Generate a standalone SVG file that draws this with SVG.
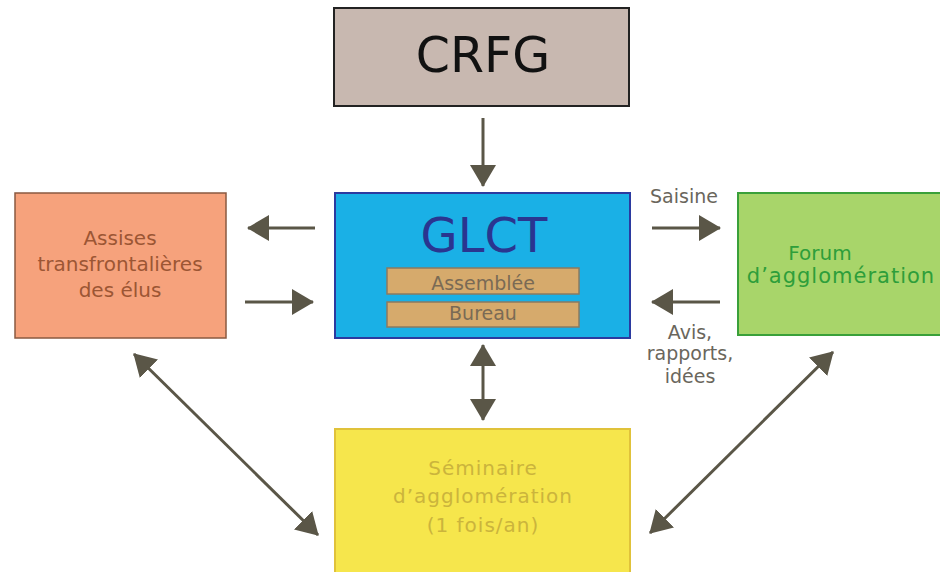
<svg xmlns="http://www.w3.org/2000/svg" width="940" height="572" viewBox="0 0 940 572">
<style>
.t{font-family:"DejaVu Sans","Liberation Sans",sans-serif;text-anchor:middle}
.c{stroke:#5a5647;stroke-width:3;fill:none}
</style>
<defs>
<marker id="ah" viewBox="0 0 22 26" refX="21" refY="13" markerWidth="22" markerHeight="26" markerUnits="userSpaceOnUse" orient="auto-start-reverse">
<path d="M0,0 L22,13 L0,26 z" fill="#5a5647"/>
</marker>
</defs>
<rect width="940" height="572" fill="#ffffff"/>
<g id="crfg">
<rect x="334" y="8" width="295" height="98" fill="#c8b8b0" stroke="#222" stroke-width="2"/>
<text class="t" x="483" y="72" font-size="49" fill="#111">CRFG</text>
</g>
<g id="glct">
<rect x="335" y="193" width="295" height="145" fill="#1ab0e6" stroke="#2b3aa0" stroke-width="2"/>
<text class="t" x="484" y="252" font-size="48" fill="#2a3590">GLCT</text>
<rect x="387" y="268" width="192" height="26" fill="#d6aa6c" stroke="#8a7a60" stroke-width="1.5"/>
<text class="t" x="483" y="290" font-size="19" fill="#7a6a55">Assemblée</text>
<rect x="387" y="302" width="192" height="25" fill="#d6aa6c" stroke="#8a7a60" stroke-width="1.5"/>
<text class="t" x="483" y="320" font-size="19" fill="#7a6a55">Bureau</text>
</g>
<g id="assises">
<rect x="15" y="193" width="211" height="145" fill="#f6a27c" stroke="#8a5a40" stroke-width="1.5"/>
<text class="t" x="120" y="245" font-size="20" fill="#9c5634">Assises</text>
<text class="t" x="120" y="271" font-size="20" fill="#9c5634">transfrontalières</text>
<text class="t" x="120" y="297" font-size="20" fill="#9c5634">des élus</text>
</g>
<g id="forum">
<rect x="738" y="193" width="204" height="142" fill="#a8d56a" stroke="#3aa03a" stroke-width="2"/>
<text class="t" x="820" y="260" font-size="20" fill="#2e9e3a">Forum</text>
<text class="t" x="841" y="283" font-size="21" fill="#2e9e3a" letter-spacing="1">d’agglomération</text>
</g>
<g id="seminaire">
<rect x="335" y="429" width="295" height="145" fill="#f6e64c" stroke="#e0c23a" stroke-width="2"/>
<text class="t" x="483" y="475" font-size="20" fill="#cbb43c" letter-spacing="1">Séminaire</text>
<text class="t" x="483" y="503" font-size="20" fill="#cbb43c" letter-spacing="1">d’agglomération</text>
<text class="t" x="483" y="532" font-size="20" fill="#cbb43c" letter-spacing="1">(1 fois/an)</text>
</g>
<g id="labels">
<text class="t" x="684" y="203" font-size="19" fill="#6a665c">Saisine</text>
<text class="t" x="690" y="339" font-size="19" fill="#6a665c">Avis,</text>
<text class="t" x="690" y="360" font-size="19" fill="#6a665c">rapports,</text>
<text class="t" x="690" y="383" font-size="19" fill="#6a665c">idées</text>
</g>
<g id="connectors">
<line class="c" x1="483" y1="118" x2="483" y2="186" marker-end="url(#ah)"/>
<line class="c" x1="315" y1="228" x2="248" y2="228" marker-end="url(#ah)"/>
<line class="c" x1="245" y1="302" x2="313" y2="302" marker-end="url(#ah)"/>
<line class="c" x1="652" y1="228" x2="720" y2="228" marker-end="url(#ah)"/>
<line class="c" x1="720" y1="302" x2="652" y2="302" marker-end="url(#ah)"/>
<line class="c" x1="483" y1="345" x2="483" y2="420" marker-start="url(#ah)" marker-end="url(#ah)"/>
<line class="c" x1="134" y1="354" x2="318" y2="535" marker-start="url(#ah)" marker-end="url(#ah)"/>
<line class="c" x1="833" y1="352" x2="650" y2="533" marker-start="url(#ah)" marker-end="url(#ah)"/>
</g>
</svg>
